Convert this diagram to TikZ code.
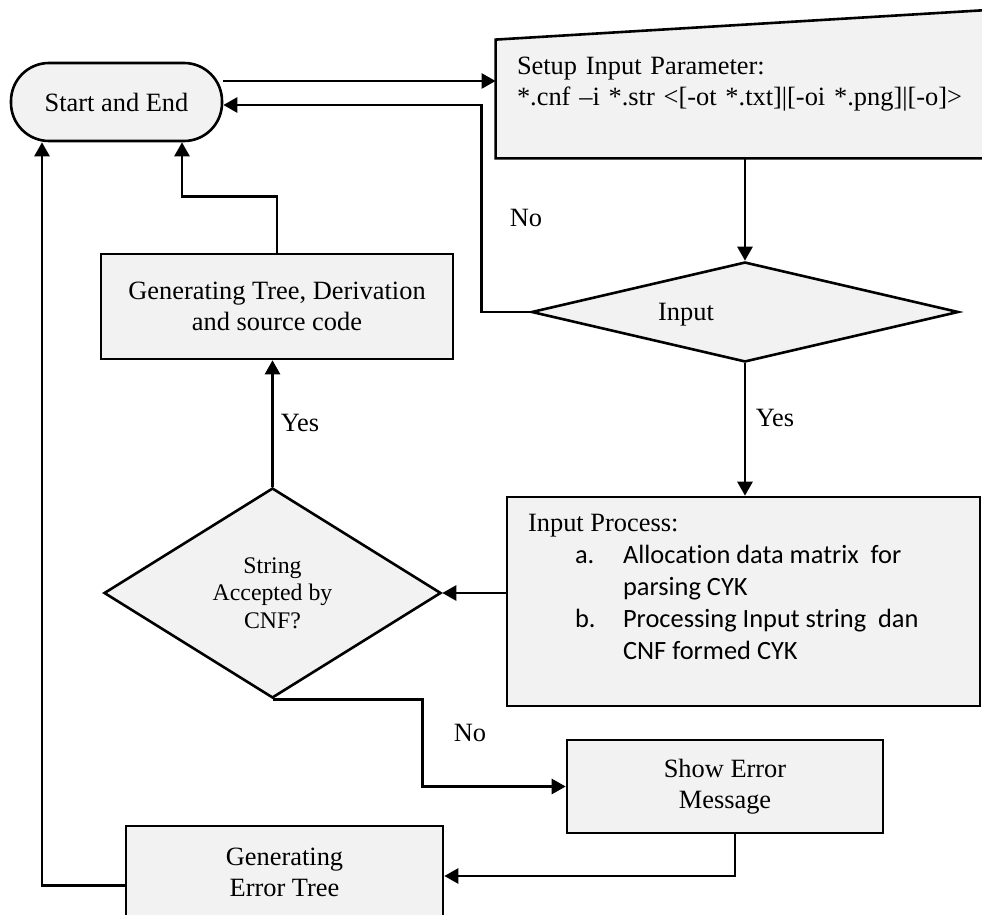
\documentclass[tikz,border=0pt]{standalone}
\usepackage{fontspec}
\setmainfont{Liberation Serif}
\newfontfamily\calibri[Ligatures=NoCommon]{Carlito}
\usepackage{tikz}
\usetikzlibrary{shapes.geometric,arrows.meta,backgrounds}
\definecolor{boxgray}{HTML}{F2F2F2}
\tikzset{%
  terminal/.style = {draw, rectangle, rounded corners=19pt, fill=boxgray,
    line width=1.3pt, minimum width=105.5pt, minimum height=39pt},
  block/.style    = {draw, rectangle, fill=boxgray, line width=1.3pt,
    align=center},
  decision/.style = {draw, diamond, fill=boxgray, line width=1.3pt,
    inner sep=0pt, align=center}, % Branch
  lbl/.style      = {inner sep=0pt}, % Yes / No
  flow/.style     = {-{Triangle[length=7pt,width=7.5pt]}, line width=1.3pt}
}

\begin{document}
\begin{tikzpicture}[x=0.5pt, y=-0.5pt, font=\fontsize{13.2}{15.5}\selectfont]
        \useasboundingbox (0,0) rectangle (982,915);
        \clip (0,0) rectangle (982,915);
        \node [terminal] (start) at (116.5,102) {Start and End};
        \node [rectangle, minimum width=249pt, minimum height=74pt,
               text width=228pt, align=left] (setup) at (745,84)
               {Setup Input Parameter:\\{*}.cnf –i *.str <[-ot *.txt]|[-oi *.png]|[-o]>};
        \begin{pgfonlayer}{background}
            \filldraw[fill=boxgray, line width=1.3pt] (setup.south west)
                -- ([yshift=-15pt]setup.north west) -- (setup.north east)
                -- (setup.south east) -- cycle;
        \end{pgfonlayer}
        \node [decision, aspect=4, minimum width=213.5pt, minimum height=50pt,
               label={[xshift=-29.5pt, yshift=-1.5pt]center:Input}] (input) at (745,312) {};
        \node [block, minimum width=176pt, minimum height=52.5pt] (gentree) at (277,306.5)
              {Generating Tree, Derivation\\and source code};
        \node [block, minimum width=236.5pt, minimum height=104.5pt,
               label={[anchor=north west, inner sep=0pt, xshift=11pt, yshift=-9pt,
                       align=left, font=\fontsize{13.2}{16}\selectfont]north west:%
               {Input Process:\\[1pt]\calibri
                \begin{tabular}{@{\hspace{23.5pt}}p{24pt}@{}l@{}}
                a. & Allocation data matrix\ \ for\\
                   & parsing CYK\\
                b. & Processing Input string\ \ dan\\
                   & CNF formed CYK
                \end{tabular}}}] (procbox) at (743.5,601.5) {};
        \node [decision, minimum width=168.5pt, minimum height=105pt,
               font=\fontsize{11.9}{13.8}\selectfont] (strd) at (272.5,593)
              {String\\Accepted by\\CNF?};
        \node [block, minimum width=158pt, minimum height=46.5pt] (showerr) at (725,786.5)
              {Show Error\\Message};
        \node [block, minimum width=158.5pt, minimum height=46pt] (errtree) at (284.5,872)
              {Generating\\Error Tree};

        \draw[flow] ([yshift=10.5pt]start.east) -- ([yshift=10.5pt]start.east -| setup.west);
        \draw[flow] (input.west) -- ++(-49,0) |- ([yshift=-1.5pt]start.east);
        \draw[flow] (setup.south) -- (input.north);
        \draw[flow] (input.south) -- (input.south |- procbox.north);
        \draw[flow] (procbox.west |- strd.east) -- (strd.east);
        \draw[flow] (strd.north) -- (strd.north |- gentree.south);
        \draw[flow] (gentree.north) -- ++(0,-56) -| ([xshift=32.75pt]start.south);
        \draw[flow] (strd.south) -- ++(150,0) |- (showerr.west);
        \draw[flow] ([xshift=5pt]showerr.south) |- ([yshift=-2pt]errtree.east);
        \draw[flow] ([yshift=-6.75pt]errtree.west) -| ([xshift=-37.25pt]start.south);

        \node[lbl] (no1)  at (526,218) {No};
        \node[lbl] (yes1) at (775,418) {Yes};
        \node[lbl] (yes2) at (300,423) {Yes};
        \node[lbl] (no2)  at (470,733) {No};
        \end{tikzpicture}
\end{document}
